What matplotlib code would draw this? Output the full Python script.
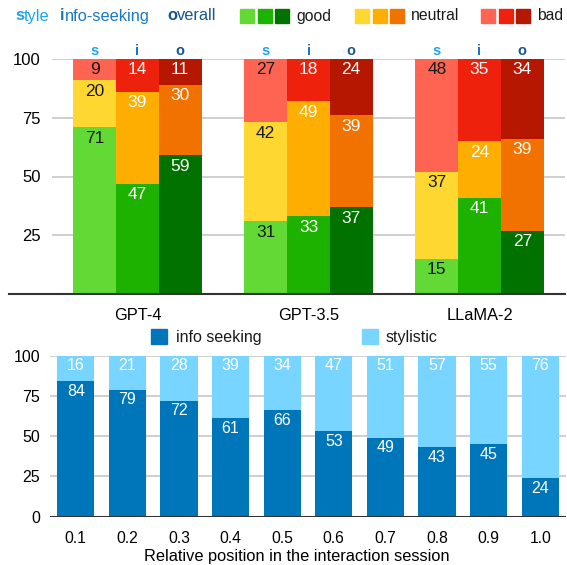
import matplotlib.pyplot as plt
from matplotlib.patches import Rectangle
import numpy as np

plt.rcParams["font.family"] = ["Liberation Sans", "DejaVu Sans"]

models = ["GPT-4", "GPT-3.5", "LLaMA-2"]
# style / info-seeking / overall, each split into good / neutral / bad
good_s = [71, 31, 15]
neutral_s = [20, 42, 37]
bad_s = [9, 27, 48]
good_i = [47, 33, 41]
neutral_i = [39, 49, 24]
bad_i = [14, 18, 35]
good_o = [59, 37, 27]
neutral_o = [30, 39, 39]
bad_o = [11, 24, 34]

positions = ["0.1", "0.2", "0.3", "0.4", "0.5", "0.6", "0.7", "0.8", "0.9", "1.0"]
info_seeking = [84, 79, 72, 61, 66, 53, 49, 43, 45, 24]
stylistic = [16, 21, 28, 39, 34, 47, 51, 57, 55, 76]

GREENS = ["#63d935", "#1db100", "#017100"]
YELLOWS = ["#fed730", "#feae00", "#f27200"]
REDS = ["#ff6452", "#ee220c", "#b51700"]
LETTER_COLORS = ["#1ea4f0", "#1a78c2", "#17568f"]
BLUE_DARK = "#0076ba"
BLUE_LIGHT = "#78d5ff"
GRID = "#cccccc"
BASE = "#333333"

W, H = 567, 565
fig = plt.figure(figsize=(W / 100, H / 100), dpi=100)


def fx(px):
    return px / W


def fy(py):
    return 1 - py / H


# ---------- top chart ----------
ax = fig.add_axes([fx(52), fy(294), fx(565) - fx(52), fy(59) - fy(294)])
x = np.arange(len(models))
bw = 0.25
series = [
    (good_s, neutral_s, bad_s, "#1a1a1a"),
    (good_i, neutral_i, bad_i, "white"),
    (good_o, neutral_o, bad_o, "white"),
]
letters = ["s", "i", "o"]
for k, (g, n, b, tc) in enumerate(series):
    xs = x + (k - 1) * bw
    g = np.array(g)
    n = np.array(n)
    b = np.array(b)
    ax.bar(xs, g, bw, color=GREENS[k], zorder=2)
    ax.bar(xs, n, bw, bottom=g, color=YELLOWS[k], zorder=2)
    ax.bar(xs, b, bw, bottom=g + n, color=REDS[k], zorder=2)
    for xi, gi, ni, bi in zip(xs, g, n, b):
        for val, top in [(gi, gi), (ni, gi + ni), (bi, gi + ni + bi)]:
            ax.annotate(str(val), (xi, top), xytext=(0, -11), textcoords="offset pixels",
                        ha="center", va="center", fontsize=12.5, color=tc, zorder=3)
        ax.annotate(letters[k], (xi, 100), xytext=(0, 8), textcoords="offset pixels",
                    ha="center", va="center", fontsize=10.5, fontweight="bold",
                    color=LETTER_COLORS[k], annotation_clip=False)

ax.set_xlim(-0.5, 2.5)
ax.set_ylim(0, 100)
ax.set_yticks([25, 50, 75, 100])
ax.set_xticks(x)
ax.set_xticklabels(models)
ax.tick_params(axis="x", length=0, pad=10, labelsize=11.8)
ax.tick_params(axis="y", length=0, pad=8, labelsize=12)
for s in ax.spines.values():
    s.set_visible(False)
ax.grid(axis="y", color=GRID, lw=1.3, zorder=0)
ax.set_axisbelow(True)
ax.plot([-(52 - 9) / 513, 1], [0, 0], transform=ax.get_yaxis_transform(),
        color=BASE, lw=1.5, clip_on=False, zorder=4)

# top legend
y_leg = fy(20.5)
words = [("s", "tyle", 15), ("i", "nfo-seeking", 60), ("o", "verall", 167)]
for (first, rest, px), c in zip(words, LETTER_COLORS):
    t = fig.text(fx(px), y_leg, first, fontsize=11.8, fontweight="bold", color=c,
                 va="baseline")
    ax.annotate(rest, xy=(1, 0), xycoords=t, va="bottom", ha="left",
                fontsize=11.8, color=c, annotation_clip=False)

for cols, sx, label, tx in [(GREENS, 240, "good", 296), (YELLOWS, 355, "neutral", 411),
                            (REDS, 481, "bad", 537)]:
    for j, c in enumerate(cols):
        fig.patches.append(Rectangle((fx(sx + j * 17.5), fy(22.5)), fx(14), fy(9) - fy(22.5),
                                     transform=fig.transFigure, color=c))
    fig.text(fx(tx), fy(20.5), label, fontsize=11.3, color="#1a1a1a", va="baseline")

# ---------- bottom chart ----------
ax2 = fig.add_axes([fx(50), fy(516.7), fx(566) - fx(50), fy(355.7) - fy(516.7)])
xb = np.arange(len(positions))
bw2 = 0.72
ax2.bar(xb, info_seeking, bw2, color=BLUE_DARK, zorder=2)
ax2.bar(xb, stylistic, bw2, bottom=info_seeking, color=BLUE_LIGHT, zorder=2)
for xi, a, b in zip(xb, info_seeking, stylistic):
    ax2.annotate(str(a), (xi, a), xytext=(0, -10), textcoords="offset pixels",
                 ha="center", va="center", fontsize=11.5, color="white", zorder=3)
    ax2.annotate(str(b), (xi, a + b), xytext=(0, -10), textcoords="offset pixels",
                 ha="center", va="center", fontsize=11.5, color="white", zorder=3)
ax2.set_xlim(-0.5, 9.5)
ax2.set_ylim(0, 100)
ax2.set_yticks([0, 25, 50, 75, 100])
ax2.set_xticks(xb)
ax2.set_xticklabels(positions)
ax2.tick_params(axis="x", length=0, pad=10, labelsize=11.3)
ax2.tick_params(axis="y", length=0, pad=7, labelsize=11.5)
for s in ax2.spines.values():
    s.set_visible(False)
ax2.grid(axis="y", color=GRID, lw=1.3, zorder=0)
ax2.set_axisbelow(True)
ax2.axhline(0, color=BASE, lw=1.5, zorder=4)
ax2.set_xlabel("Relative position in the interaction session", fontsize=11.8)
ax2.xaxis.set_label_coords((296.5 - 50) / 516, -(557 - 516.7) / 161, transform=ax2.transAxes)
ax2.xaxis.label.set_va("center")

# bottom legend
for c, sx, label, tx in [(BLUE_DARK, 151, "info seeking", 176), (BLUE_LIGHT, 362, "stylistic", 386)]:
    fig.patches.append(Rectangle((fx(sx), fy(344)), fx(16), fy(329) - fy(344),
                                 transform=fig.transFigure, color=c))
    fig.text(fx(tx), fy(342), label, fontsize=11.5, color="#1a1a1a", va="baseline")

fig.savefig("out.png", dpi=100)
